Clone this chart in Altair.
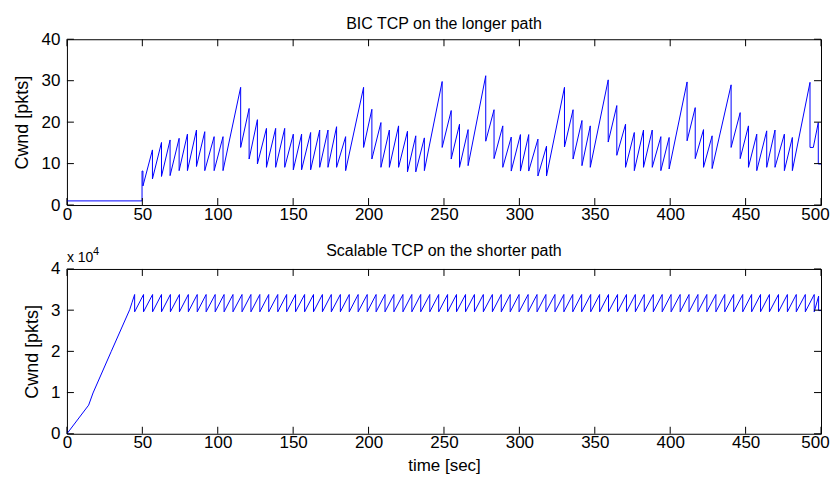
import altair as alt
import pandas as pd

FONT = "Liberation Sans"
BLUE = "#0000ff"

# ---------------- data: BIC TCP (longer path) ----------------
bic_start_t = [0, 49.8, 49.8, 50.4, 50.4]
bic_start_v = [1, 1, 8.2, 8.2, 4.6]
bic_peak_t = [56.7, 62.7, 68.4, 74.4, 79.9, 85.9, 91.4, 97.6, 103.5, 115.2,
              120.8, 126.3, 132.3, 138.4, 144.4, 150.1, 155.6, 161.6, 167.6, 173.1,
              178.8, 184.8, 196.7, 202.2, 208.2, 213.8, 219.9, 225.8, 231.3, 237.0,
              248.8, 254.8, 260.3, 266.0, 277.7, 283.2, 289.0, 294.6, 300.7, 306.2,
              312.3, 318.0, 329.9, 335.6, 341.5, 347.0, 358.9, 364.6, 370.4, 376.2,
              382.3, 388.1, 393.8, 399.3, 411.2, 416.6, 422.1, 427.8, 440.4, 446.4,
              451.9, 457.4, 464.0, 469.5, 475.7, 481.0, 492.7]
bic_peak_v = [13.3, 15.1, 15.7, 16.1, 17.1, 18.1, 17.7, 16.5, 16.5, 28.4,
              23.3, 20.6, 18.5, 18.5, 18.5, 17.1, 17.1, 17.5, 18.1, 18.1,
              18.9, 16.5, 28.4, 23.1, 19.9, 18.1, 19.1, 17.8, 16.7, 16.2,
              29.8, 22.8, 19.5, 18.2, 31.2, 23.0, 19.1, 16.4, 17.0, 17.0,
              15.9, 14.2, 28.4, 23.0, 20.4, 19.1, 30.2, 24.0, 19.5, 17.5,
              18.1, 18.1, 16.5, 16.3, 29.7, 23.5, 18.2, 16.7, 29.0, 22.3,
              19.1, 17.1, 17.9, 18.1, 17.1, 16.3, 29.6]
bic_trough_v = [6.3, 6.9, 7.1, 8.3, 8.3, 9.3, 8.3, 8.3, 8.3, 13.9,
                11.1, 9.9, 9.1, 9.1, 9.1, 8.5, 8.5, 8.5, 9.1, 9.1,
                9.1, 8.3, 13.9, 11.1, 9.1, 9.1, 9.1, 8.0, 8.0, 8.3,
                13.9, 11.1, 9.1, 9.5, 15.4, 11.2, 9.1, 8.2, 8.2, 8.2,
                7.0, 7.0, 14.0, 11.1, 9.5, 9.1, 15.2, 12.0, 9.1, 8.3,
                9.1, 9.1, 8.3, 8.7, 15.5, 11.2, 9.1, 8.8, 13.9, 11.2,
                9.1, 8.3, 9.1, 9.1, 8.3, 8.3, 13.9]
bic_end_t = [494.9, 498.2, 498.2, 500]
bic_end_v = [13.9, 19.9, 9.9, 9.9]

# ---------------- data: Scalable TCP (shorter path) ----------------
sc_start_t = [0, 14.4, 17.3, 29.4, 41.6, 43.1]
sc_start_v = [0, 6950, 9900, 20000, 30100, 31800]
sc_peak_t = [44.9, 50.8, 56.8, 62.7, 68.6, 74.6, 80.5, 86.4, 92.3, 98.3,
             104.2, 110.1, 116.1, 122.0, 127.9, 133.8, 139.8, 145.7, 151.6, 157.6,
             163.5, 169.4, 175.3, 181.3, 187.2, 193.1, 199.1, 205.0, 210.9, 216.8,
             222.8, 228.7, 234.6, 240.6, 246.5, 252.4, 258.3, 264.3, 270.2, 276.1,
             282.1, 288.0, 293.9, 299.8, 305.8, 311.7, 317.6, 323.6, 329.5, 335.4,
             341.3, 347.3, 353.2, 359.1, 365.1, 371.0, 376.9, 382.8, 388.8, 394.7,
             400.6, 406.6, 412.5, 418.4, 424.3, 430.3, 436.2, 442.1, 448.1, 454.0,
             459.9, 465.8, 471.8, 477.7, 483.6, 489.6, 495.5]
sc_peak_level = 33800
sc_trough_level = 29600
sc_end_t = [498.4, 498.4, 500]
sc_end_v = [33400, 29900, 29900]

x_ticks = [0, 50, 100, 150, 200, 250, 300, 350, 400, 450, 500]
top_y_ticks = [0, 10, 20, 30, 40]
bot_y_ticks = [0, 10000, 20000, 30000, 40000]

top_title = "BIC TCP on the longer path"
bot_title = "Scalable TCP on the shorter path"
y_title = "Cwnd [pkts]"
x_title = "time [sec]"

# ---------------- build tables ----------------
def build(start_t, start_v, peaks_t, peaks_v, troughs_v, end_t, end_v):
    ts, vs = list(start_t), list(start_v)
    for pt, pv, tv in zip(peaks_t, peaks_v, troughs_v):
        ts += [pt, pt]
        vs += [pv, tv]
    ts += end_t
    vs += end_v
    return pd.DataFrame({"t": ts, "v": vs, "i": range(len(ts))})

bic_df = build(bic_start_t, bic_start_v, bic_peak_t, bic_peak_v, bic_trough_v,
               bic_end_t, bic_end_v)
sc_df = build(sc_start_t, sc_start_v, sc_peak_t,
              [sc_peak_level] * len(sc_peak_t), [sc_trough_level] * len(sc_peak_t),
              sc_end_t, sc_end_v)

W = 755
TICK = 7
FS = 17
TFS = 16


def text_layer(s, x, y, size, align="center", baseline="alphabetic"):
    return alt.Chart(pd.DataFrame({"s": [s]})).mark_text(
        align=align, baseline=baseline, font=FONT, fontSize=size, color="black"
    ).encode(text="s:N", x=alt.value(x), y=alt.value(y))


def panel(df, H, ydom, yticks, title, title_y, ylab_x, ylabel_expr, xtitle, extra=()):
    xscale = alt.Scale(domain=[0, 500], nice=False, zero=False)
    yscale = alt.Scale(domain=ydom, nice=False, zero=False)
    xaxis_kw = dict(values=x_ticks, ticks=False, domain=False, grid=False,
                    labelPadding=1, labelFlush=False, labelFont=FONT,
                    labelFontSize=FS, labelColor="black",
                    labelOffset={"condition": {"test": "datum.value == 500", "value": -6},
                                 "value": 0})
    if xtitle:
        xaxis = alt.Axis(title=xtitle, titleFont=FONT, titleFontSize=FS,
                         titleFontWeight="normal", titleColor="black",
                         titleY=37, titleBaseline="alphabetic", **xaxis_kw)
    else:
        xaxis = alt.Axis(title=None, **xaxis_kw)
    yaxis_kw = dict(values=yticks, ticks=False, domain=False, grid=False,
                    labelPadding=7, labelFont=FONT, labelFontSize=FS,
                    labelColor="black", title=y_title, titleFont=FONT,
                    titleFontSize=18, titleFontWeight="normal",
                    titleColor="black", titleX=ylab_x, titleY=H / 2,
                    titleBaseline="middle", titleAlign="center", titleAngle=-90)
    if ylabel_expr:
        yaxis_kw["labelExpr"] = ylabel_expr
    yaxis = alt.Axis(**yaxis_kw)
    X = alt.X("t:Q", scale=xscale, axis=xaxis)
    Y = alt.Y("v:Q", scale=yscale, axis=yaxis)
    line = alt.Chart(df).mark_line(color=BLUE, strokeWidth=1, interpolate="linear").encode(
        x=X, y=Y, order="i:Q",
    )
    xt = pd.DataFrame({"t": x_ticks})
    yt = pd.DataFrame({"v": yticks})
    rule = dict(color="black", strokeWidth=1)
    xb = alt.Chart(xt).mark_rule(**rule).encode(x=X, y=alt.value(H), y2=alt.value(H - TICK))
    xtp = alt.Chart(xt).mark_rule(**rule).encode(x=X, y=alt.value(0), y2=alt.value(TICK))
    yl = alt.Chart(yt).mark_rule(**rule).encode(y=Y, x=alt.value(0), x2=alt.value(TICK))
    yr = alt.Chart(yt).mark_rule(**rule).encode(y=Y, x=alt.value(W), x2=alt.value(W - TICK))
    ttl = text_layer(title, W / 2, title_y, TFS)
    return alt.layer(line, xb, xtp, yl, yr, ttl, *extra).properties(width=W, height=H)


exp_txt = text_layer("x 10", 0, -7, 14, align="left")
sup_txt = text_layer("4", 26, -14, 11, align="left")

top = panel(bic_df, 166, [0, 40], top_y_ticks, top_title, -10, -44, None, None)
bot = panel(sc_df, 165, [0, 40000], bot_y_ticks, bot_title, -13, -34,
            "datum.value / 10000", x_title, extra=(exp_txt, sup_txt))

chart = alt.vconcat(top, bot, spacing=19).properties(
    padding={"top": 7, "left": 5, "right": 0, "bottom": 0}
).configure_view(stroke="black", strokeWidth=1)

chart.save("out.html", embed_options={"renderer": "svg", "actions": False})
